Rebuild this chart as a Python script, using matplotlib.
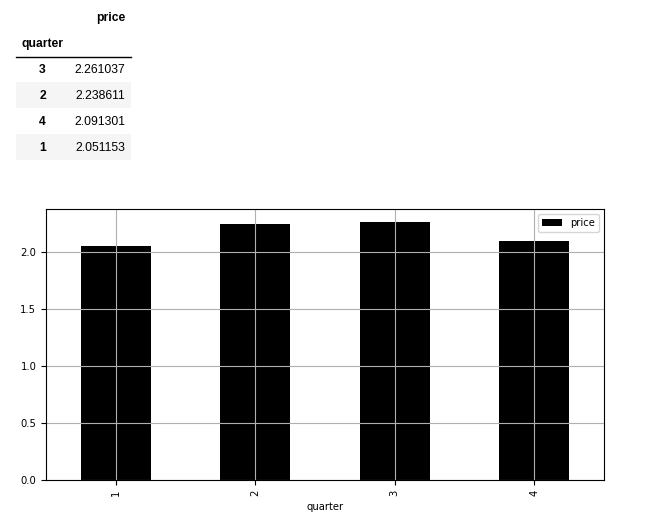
import matplotlib
matplotlib.use("Agg")
import matplotlib.pyplot as plt
from matplotlib.patches import Rectangle
from matplotlib.lines import Line2D
import pandas as pd

# data
quarters = [1, 2, 3, 4]
prices = [2.051153, 2.238611, 2.261037, 2.091301]

W, H = 655, 520
plt.rcParams['font.size'] = 7.2


def fx(px):
    return px / W


def fy(py):
    return 1 - py / H


df = pd.DataFrame({'quarter': quarters, 'price': prices}).set_index('quarter')
table = df.sort_values('price', ascending=False)

fig = plt.figure(figsize=(W / 100, H / 100), dpi=100)

# html-like table at top
tfont = dict(family='Liberation Sans', fontsize=8.7, color='black')
fig.text(fx(125), fy(18), 'price', ha='right', va='center', weight='bold', **tfont)
fig.text(fx(22), fy(44), 'quarter', ha='left', va='center', weight='bold', **tfont)
fig.add_artist(Line2D([fx(16), fx(131)], [fy(56.5), fy(56.5)],
                      color='black', lw=1, transform=fig.transFigure))
row_h = 26
for i, (q, p) in enumerate(table['price'].items()):
    yc = 69 + i * row_h
    if i % 2 == 1:
        fig.add_artist(Rectangle((fx(16), fy(yc + 13)), fx(131) - fx(16), row_h / H,
                                 transform=fig.transFigure, facecolor='#f5f5f5',
                                 edgecolor='none', zorder=0))
    fig.text(fx(46), fy(yc + 1), str(q), ha='right', va='center', weight='bold', **tfont)
    fig.text(fx(125), fy(yc + 1), f'{p:.6f}', ha='right', va='center', **tfont)

# bar chart
ax = fig.add_axes([fx(46), fy(480), fx(604) - fx(46), (480 - 209) / H])
df.plot(kind='bar', color='black', grid=True, ax=ax)
ax.set_xlabel('quarter')
ax.legend(loc='upper right')

fig.savefig('out.png', dpi=100)
